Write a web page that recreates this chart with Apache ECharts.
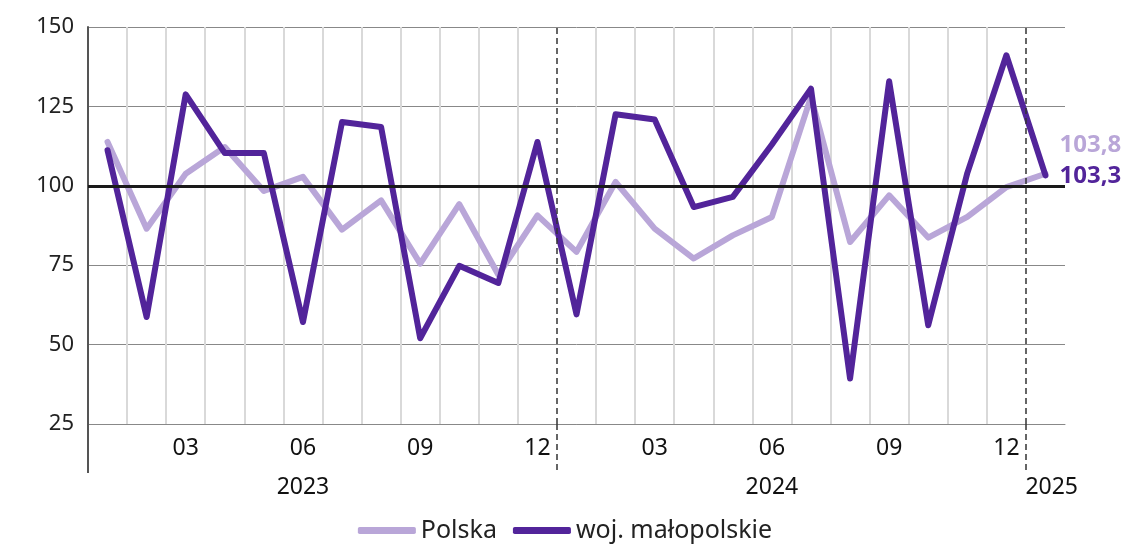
<!DOCTYPE html>
<html>
<head>
<meta charset="utf-8">
<script src="https://cdn.jsdelivr.net/npm/echarts@6/dist/echarts.min.js"></script>
<style>
  html, body { margin: 0; padding: 0; background: #fff; }
  #chart { width: 1130px; height: 546px; }
</style>
</head>
<body>
<div id="chart"></div>
<script>
// months Jan 2023 .. Jan 2025
var months = ['01','02','03','04','05','06','07','08','09','10','11','12',
              '01','02','03','04','05','06','07','08','09','10','11','12','01'];
var polska = [113.8, 86.5, 103.8, 112.2, 98.4, 102.8, 86.2, 95.4, 75.5, 94.2, 72.0, 90.7,
              79.2, 101.2, 86.5, 77.1, 84.4, 90.2, 128.0, 82.3, 97.0, 83.7, 90.2, 99.6, 103.8];
var malopolskie = [111.2, 58.7, 128.8, 110.3, 110.3, 57.1, 120.1, 118.5, 52.0, 74.8, 69.4, 113.8,
                   59.5, 122.5, 120.9, 93.3, 96.5, 113.0, 130.6, 39.3, 132.9, 56.1, 104.0, 141.1, 103.3];
var years = ['2023', '2024', '2025'];
var yearPos = [5.5, 17.5, 24.66];
var yearBreaks = [12, 24];

var LIGHT = '#b9a6d8';
var DARK = '#52249a';
var FONT = 'Noto Sans';

// month boundaries inside the plot (gray verticals), skipping the year breaks
var monthBounds = [];
for (var i = 1; i < months.length; i++) {
  if (yearBreaks.indexOf(i) < 0) monthBounds.push(i);
}

var chart = echarts.init(document.getElementById('chart'));

function fmt(v) { return String(v.toFixed(1)).replace('.', ','); }

chart.setOption({
  animation: false,
  textStyle: { fontFamily: FONT },
  grid: { left: 88, right: 65, top: 27, bottom: 122, containLabel: false },
  legend: {
    top: 513,
    left: 'center',
    icon: 'roundRect',
    itemWidth: 58,
    itemHeight: 7,
    itemGap: 16,
    textStyle: { fontSize: 25, color: '#222', fontFamily: FONT },
    data: ['Polska', 'woj. małopolskie']
  },
  xAxis: [{
    type: 'category',
    data: months,
    boundaryGap: true,
    axisLine: { show: true, lineStyle: { color: '#888', width: 1 } },
    axisTick: { show: false },
    axisLabel: {
      interval: function (i, v) { return v === '03' || v === '06' || v === '09' || v === '12'; },
      fontSize: 23, color: '#111', margin: 13, fontFamily: FONT
    },
    splitLine: { show: false }
  }, {
    // year breaks (dashed) and year labels
    type: 'value',
    min: 0, max: months.length,
    position: 'bottom',
    axisLine: { show: false },
    axisTick: {
      show: true, customValues: yearBreaks, length: 49, inside: false,
      lineStyle: { color: '#333', width: 1.5, type: [6, 4] }
    },
    axisLabel: {
      customValues: yearPos,
      margin: 52,
      fontSize: 23, color: '#111', fontFamily: FONT,
      formatter: function (v) { return years[yearPos.indexOf(v)]; }
    },
    splitLine: { show: false }
  }, {
    // gray month separators
    type: 'value',
    min: 0, max: months.length,
    position: 'bottom',
    axisLine: { show: false },
    axisTick: { show: false, customValues: monthBounds },
    axisLabel: { show: false },
    splitLine: { show: true, lineStyle: { color: '#d9d9d9', width: 2 } }
  }, {
    // left axis extension below the plot
    type: 'value',
    min: 0, max: months.length,
    position: 'bottom',
    axisLine: { show: false },
    axisTick: {
      show: true, customValues: [0], length: 49, inside: false,
      lineStyle: { color: '#555', width: 2 }
    },
    axisLabel: { show: false },
    splitLine: { show: false }
  }],
  yAxis: {
    type: 'value',
    min: 25, max: 150, interval: 25,
    axisLine: { show: true, lineStyle: { color: '#555', width: 2 } },
    axisTick: { show: false },
    axisLabel: { fontSize: 22, color: '#222', margin: 14, fontFamily: FONT },
    splitLine: { show: true, lineStyle: { color: '#888', width: 1 } }
  },
  series: [{
    name: 'breaks',
    type: 'line',
    xAxisIndex: 1,
    data: [],
    silent: true,
    markLine: {
      silent: true,
      symbol: 'none',
      label: { show: false },
      lineStyle: { color: '#333', width: 1.5, type: [6, 4] },
      data: yearBreaks.map(function (b) { return { xAxis: b }; })
    }
  }, {
    name: 'Polska',
    type: 'line',
    data: polska,
    symbol: 'none',
    lineStyle: { color: LIGHT, width: 6, cap: 'round', join: 'round' },
    itemStyle: { color: LIGHT },
    z: 3,
    markLine: {
      silent: true,
      symbol: 'none',
      label: { show: false },
      lineStyle: { color: '#1a1a1a', width: 3, type: 'solid' },
      data: [{ yAxis: 100 }]
    },
    endLabel: {
      show: true,
      formatter: function (p) { return fmt(p.value); },
      color: LIGHT, fontSize: 24, fontWeight: 'bold', fontFamily: FONT,
      distance: 14, offset: [0, -29]
    }
  }, {
    name: 'woj. małopolskie',
    type: 'line',
    data: malopolskie,
    symbol: 'none',
    lineStyle: { color: DARK, width: 6, cap: 'round', join: 'round' },
    itemStyle: { color: DARK },
    z: 4,
    endLabel: {
      show: true,
      formatter: function (p) { return fmt(p.value); },
      color: DARK, fontSize: 24, fontWeight: 'bold', fontFamily: FONT,
      distance: 14, offset: [0, 1]
    }
  }]
});
</script>
</body>
</html>
